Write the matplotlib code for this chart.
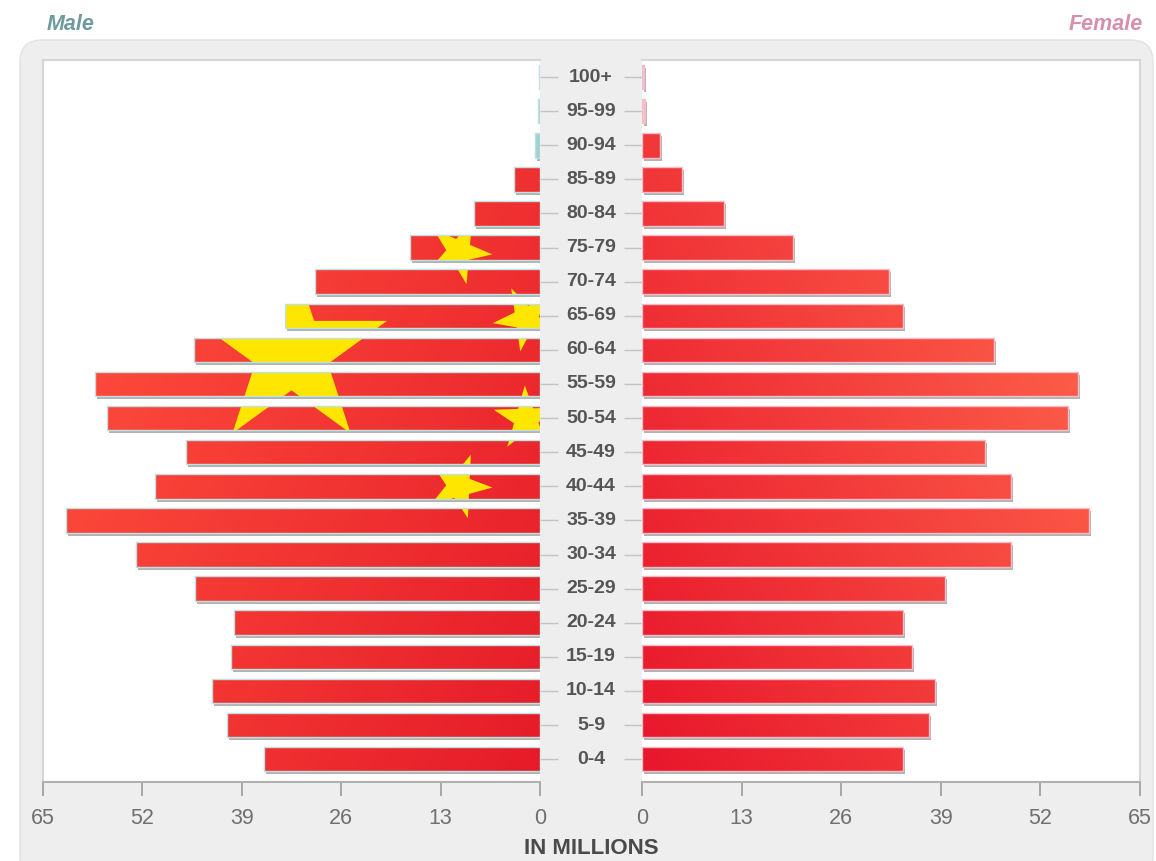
import numpy as np
import matplotlib
matplotlib.use("Agg")
import matplotlib.pyplot as plt
from matplotlib.patches import PathPatch, Polygon, FancyBboxPatch
from matplotlib.path import Path
from matplotlib import transforms as mtransforms

# Population by five-year age group, in millions (bottom row first)
age_groups = ["0-4", "5-9", "10-14", "15-19", "20-24", "25-29", "30-34",
              "35-39", "40-44", "45-49", "50-54", "55-59", "60-64", "65-69",
              "70-74", "75-79", "80-84", "85-89", "90-94", "95-99", "100+"]
male = [36.1, 41.0, 42.9, 40.4, 40.0, 45.1, 52.9, 62.0, 50.3, 46.3, 56.6,
        58.2, 45.2, 33.3, 29.4, 17.0, 8.6, 3.4, 0.7, 0.2, 0.1]
female = [34.1, 37.4, 38.3, 35.2, 34.1, 39.6, 48.1, 58.4, 48.1, 44.8, 55.6,
          56.9, 45.9, 34.1, 32.3, 19.7, 10.7, 5.2, 2.4, 0.4, 0.2]
x_ticks = [0, 13, 26, 39, 52, 65]

W, H = 1156, 861
NARROW = ["Liberation Sans Narrow", "Liberation Sans", "DejaVu Sans"]
REGULAR = ["Liberation Sans", "DejaVu Sans"]

fig = plt.figure(figsize=(W / 100, H / 100), dpi=100, facecolor="white")

# rounded grey card behind the chart
card = FancyBboxPatch((20, -20), 1133, 841,
                      boxstyle="round,pad=0,rounding_size=22",
                      transform=mtransforms.IdentityTransform(),
                      facecolor="#eeeeee", edgecolor="#e2e2e2", lw=1, zorder=0)
fig.add_artist(card)

AX_BOTTOM, AX_TOP = 782, 60


def rect(x0, x1):
    return [x0 / W, 1 - AX_BOTTOM / H, (x1 - x0) / W, (AX_BOTTOM - AX_TOP) / H]


axL = fig.add_axes(rect(43, 540))
axR = fig.add_axes(rect(642, 1140))

y = np.arange(len(age_groups))
Y_LO, Y_HI = -0.67, 20.5
BAR_H = 0.72


def gradient(c0, c1, y_top):
    xs = np.linspace(0, 65, 260)
    ys = np.linspace(Y_LO, y_top, 200)
    X, Yg = np.meshgrid(xs, ys)
    t = np.clip(0.65 * X / 60 + 0.45 * (Yg / 20), 0, 1)[..., None]
    c0, c1 = np.array(c0), np.array(c1)
    return c0 + t * (c1 - c0)


def star(cx, cy, radius, angle):
    a = np.deg2rad(angle) + np.arange(10) * np.pi / 5
    r = np.where(np.arange(10) % 2 == 0, radius, radius * 0.382)
    return np.c_[cx + r * np.cos(a), cy + r * np.sin(a)]


sides = [
    (axL, male, "#bfe0e0", "#9fd3d3", (0.90, 0.11, 0.16), (1.0, 0.31, 0.24), 17.5),
    (axR, female, "#f3bcc8", "#f6c0cc", (0.91, 0.09, 0.17), (1.0, 0.40, 0.30), 18.5),
]

clips = {}
for ax, vals, edge, base, c0, c1, grad_top in sides:
    ax.set_facecolor("white")
    shadow = mtransforms.offset_copy(ax.transData, fig=fig, x=2, y=-3, units="dots")
    ax.barh(y, vals, height=BAR_H, color="#b2b2b2", lw=0, transform=shadow, zorder=1)
    bars = ax.barh(y, vals, height=BAR_H, color=base, lw=0, zorder=2)
    paths = [b.get_patch_transform().transform_path(b.get_path()) for b in bars]
    clip = PathPatch(Path.make_compound_path(*paths), transform=ax.transData,
                     facecolor="none", edgecolor="none")
    clips[ax] = clip
    im = ax.imshow(gradient(c0, c1, grad_top), extent=(0, 65, Y_LO, grad_top),
                   origin="lower", aspect="auto", interpolation="bilinear", zorder=3)
    im.set_clip_path(clip)
    ax.barh(y, vals, height=BAR_H, fill=False, edgecolor=edge, lw=1.0, zorder=5)

    ax.set_ylim(Y_LO, Y_HI)
    ax.set_xticks(x_ticks)
    ax.set_xticklabels([str(v) for v in x_ticks], family=REGULAR, fontsize=15.5,
                       color="#707070")
    ax.tick_params(axis="x", direction="out", length=10, width=1.4, color="#a8a8a8",
                   pad=9)
    ax.set_yticks(y)
    ax.set_yticklabels([])
    ax.tick_params(axis="y", direction="out", length=13, width=1.0, color="#c4c4c4")
    for s in ax.spines.values():
        s.set_color("#d6d6d6")
        s.set_linewidth(1.5)
    ax.spines["bottom"].set_color("#b0b0b0")

axL.set_xlim(65, 0)
axR.set_xlim(0, 65)
axL.yaxis.tick_right()
axL.spines["right"].set_visible(False)
axR.spines["left"].set_visible(False)

# flag emblem over the male bars: one large star and four small ones
unit = 33.5  # pixels per flag grid unit
emblem = (mtransforms.Affine2D().scale(unit, -unit)
          + mtransforms.ScaledTranslation(32.5, 11.94, axL.transData))
small_offsets = [(5, -3), (7, -1), (7, 2), (5, 4)]
shapes = [star(0, 0, 3, -90)]
for sx, sy in small_offsets:
    shapes.append(star(sx, sy, 1, np.degrees(np.arctan2(-sy, -sx))))
for verts in shapes:
    p = Polygon(verts, closed=True, transform=emblem, facecolor="#ffe600",
                edgecolor="none", zorder=4)
    axL.add_patch(p)
    p.set_clip_path(clips[axL])

# age-group labels in the centre gutter
label_tr = mtransforms.blended_transform_factory(fig.transFigure, axR.transData)
for yi, lab in zip(y, age_groups):
    fig.text(591 / W, yi, lab, transform=label_tr, ha="center", va="center",
             family=NARROW, fontweight="bold", fontsize=14, color="#555555")

fig.text(591 / W, 1 - 848 / H, "IN MILLIONS", ha="center", va="center",
         family=NARROW, fontweight="bold", fontsize=16, color="#4a4a4a")
fig.text(47 / W, 1 - 24 / H, "Male", ha="left", va="center", family=REGULAR,
         fontweight="bold", fontstyle="italic", fontsize=15.5, color="#6f9b9c")
fig.text(1143 / W, 1 - 24 / H, "Female", ha="right", va="center", family=REGULAR,
         fontweight="bold", fontstyle="italic", fontsize=15.5, color="#d690ac")

fig.savefig("out.png", dpi=100, facecolor="white")
